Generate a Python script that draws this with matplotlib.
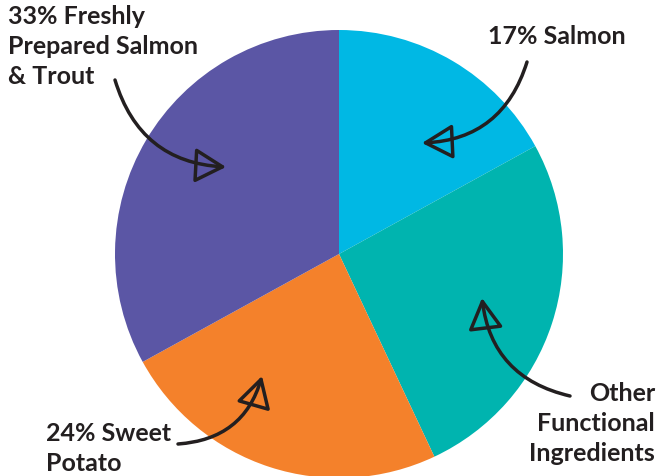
import matplotlib
matplotlib.use("Agg")
import matplotlib.pyplot as plt

# Data
labels = ["Salmon", "Other Functional Ingredients", "Sweet Potato",
          "Freshly Prepared Salmon & Trout"]
shares = [17, 26, 24, 33]
colors = ["#00B8E4", "#00B4AF", "#F4812B", "#5B56A5"]

W, H = 657, 476
ink = "#231F20"
plt.rcParams["font.family"] = ["Lato", "DejaVu Sans"]


def px(x, y):
    # image pixel coords -> data coords (y up)
    return (x, H - y)


fig = plt.figure(figsize=(W / 100, H / 100), dpi=100)
ax = fig.add_axes([0, 0, 1, 1])

ax.pie(shares, colors=colors, startangle=90, counterclock=False,
       center=px(339, 254), radius=224, frame=True,
       wedgeprops=dict(linewidth=0))
ax.set_xlim(0, W)
ax.set_ylim(0, H)
ax.set_aspect("equal")
ax.axis("off")

tfont = dict(fontsize=18, fontweight="bold", color=ink, linespacing=1.38)
ax.text(*px(8, 5), "33% Freshly\nPrepared Salmon\n& Trout", ha="left", va="top", **tfont)
ax.text(*px(488, 25), "17% Salmon", ha="left", va="top", **tfont)
ax.text(*px(655, 382), "Other\nFunctional\nIngredients", ha="right", va="top",
        multialignment="right", **tfont)
ax.text(*px(46, 422), "24% Sweet\nPotato", ha="left", va="top", **tfont)

arrows = [
    # tail, head, rad
    ((115, 80), (226, 167), 0.35),
    ((527, 62), (422, 143), -0.35),
    ((570, 396), (482, 298), -0.35),
    ((178, 444), (262, 376), 0.35),
]
for tail, head, rad in arrows:
    ax.annotate("", xy=px(*head), xytext=px(*tail),
                arrowprops=dict(arrowstyle="-|>,head_length=0.8,head_width=0.45",
                                connectionstyle=f"arc3,rad={rad}",
                                lw=2.5, ec=ink, fc="none", mutation_scale=24,
                                shrinkA=0, shrinkB=0, joinstyle="round",
                                capstyle="round"))

fig.savefig("out.png", dpi=100)
